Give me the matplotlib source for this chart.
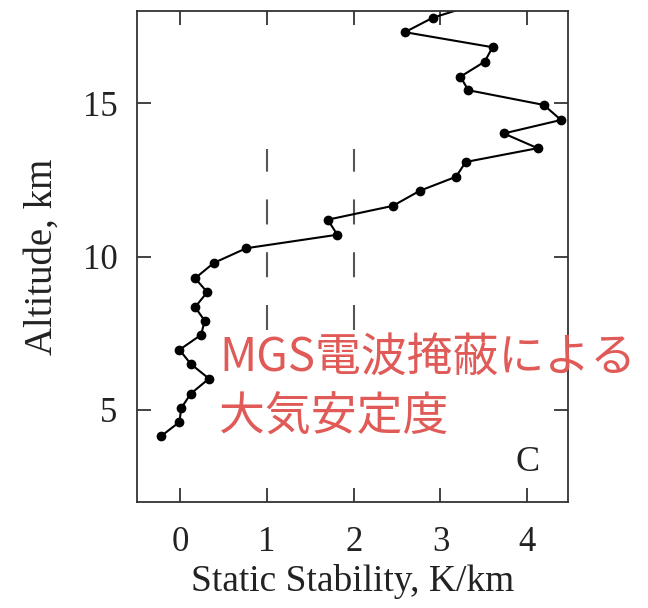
import matplotlib
matplotlib.use("Agg")
import matplotlib.pyplot as plt

# static stability profile (K/km) vs altitude (km)
stability = [3.50, 2.91, 2.59, 3.60, 3.51, 3.23, 3.32, 4.19, 4.39, 3.73, 4.12,
             3.29, 3.18, 2.76, 2.45, 1.70, 1.81, 0.76, 0.385, 0.17, 0.31,
             0.17, 0.28, 0.24, -0.01, 0.12, 0.33, 0.12, 0.01, -0.01, -0.22]
altitude = [18.30, 17.78, 17.31, 16.82, 16.35, 15.86, 15.42, 14.94, 14.45, 14.01, 13.53,
            13.08, 12.60, 12.14, 11.65, 11.20, 10.71, 10.27, 9.79, 9.29, 8.84,
            8.35, 7.91, 7.45, 6.96, 6.50, 6.02, 5.53, 5.06, 4.61, 4.15]

ref_x = [1, 2]
ref_alt = [7.6, 13.5]

xticks = [0, 1, 2, 3, 4]
yticks = [5, 10, 15]

serif = "Liberation Serif"

fig = plt.figure(figsize=(6.48, 6.08), dpi=100)
ax = fig.add_axes([0.2114, 0.1743, 0.6651, 0.8076])

for xv in ref_x:
    ax.plot([xv, xv], ref_alt, color="#555555", lw=1.5,
            dashes=(18 / 1.5, 20 / 1.5))

ax.plot(stability, altitude, color="black", lw=1.5, marker="o", ms=6,
        clip_on=True)

ax.set_xlim(-0.5, 4.47)
ax.set_ylim(2, 18)
ax.set_xticks(xticks)
ax.set_yticks(yticks)
ax.tick_params(direction="in", length=10, width=1.2, top=True, right=True,
               labelsize=25, pad=14, colors="#222222")
ax.tick_params(axis="x", pad=17)
for lab in ax.get_xticklabels() + ax.get_yticklabels():
    lab.set_fontfamily(serif)
for s in ax.spines.values():
    s.set_linewidth(1.3)
    s.set_color("#333333")

ax.set_xlabel("Static Stability, K/km", fontsize=27, family=serif,
              color="#222222", labelpad=4)
ax.set_ylabel("Altitude, km", fontsize=28, family=serif,
              color="#222222", labelpad=16)

ax.text(4.0, 3.3, "C", fontsize=26, family=serif, color="#222222",
        ha="center", va="center")

fig.text(0.338, 0.452, "MGS電波掩蔽による\n大気安定度", fontsize=33,
         color="#E05A57", family=["Noto Sans CJK JP", "DejaVu Sans"],
         ha="left", va="top", linespacing=1.3)

fig.savefig("out.png", dpi=100)
